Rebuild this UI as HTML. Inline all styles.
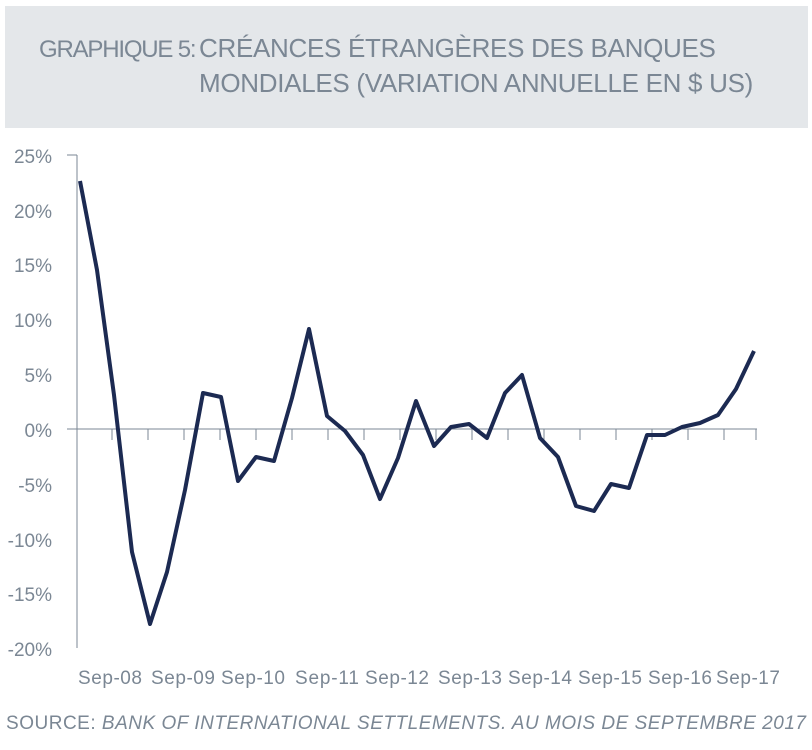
<!DOCTYPE html>
<html><head><meta charset="utf-8"><style>
body{margin:0;width:812px;height:750px;background:#fff;overflow:hidden;font-family:"Liberation Sans",sans-serif}
.hdr{position:absolute;left:5px;top:6px;width:803px;height:122px;background:#e4e7ea}
.t{position:absolute;color:#7b8794;white-space:nowrap}
</style></head><body>
<div class="hdr"></div>
<div class="t" style="left:39px;top:36px;font-size:24px;letter-spacing:-1.2px">GRAPHIQUE 5:</div>
<div class="t" style="left:199px;top:33px;font-size:26px;letter-spacing:-0.3px">CRÉANCES ÉTRANGÈRES DES BANQUES</div>
<div class="t" style="left:199px;top:68px;font-size:26px;letter-spacing:-0.3px">MONDIALES (VARIATION ANNUELLE EN $ US)</div>
<svg width="812" height="750" style="position:absolute;left:0;top:0" font-family="Liberation Sans, sans-serif">
<g stroke="#7b8794" stroke-width="1">
<line x1="77" y1="155" x2="77" y2="648"/>
<line x1="67" y1="155" x2="77" y2="155"/>
<line x1="67" y1="429" x2="757" y2="429"/>
</g>
<g stroke="#7b8794" stroke-width="1">
<line x1="112" y1="429" x2="112" y2="440"/><line x1="148" y1="429" x2="148" y2="440"/><line x1="184" y1="429" x2="184" y2="440"/><line x1="220" y1="429" x2="220" y2="440"/><line x1="256" y1="429" x2="256" y2="440"/><line x1="292" y1="429" x2="292" y2="440"/><line x1="328" y1="429" x2="328" y2="440"/><line x1="364" y1="429" x2="364" y2="440"/><line x1="400" y1="429" x2="400" y2="440"/><line x1="436" y1="429" x2="436" y2="440"/><line x1="472" y1="429" x2="472" y2="440"/><line x1="508" y1="429" x2="508" y2="440"/><line x1="544" y1="429" x2="544" y2="440"/><line x1="580" y1="429" x2="580" y2="440"/><line x1="616" y1="429" x2="616" y2="440"/><line x1="652" y1="429" x2="652" y2="440"/><line x1="688" y1="429" x2="688" y2="440"/><line x1="724" y1="429" x2="724" y2="440"/><line x1="756" y1="429" x2="756" y2="440"/>
</g>
<g fill="#7b8794" font-size="19" text-anchor="end">
<text x="52" y="163">25%</text><text x="52" y="218">20%</text><text x="52" y="272">15%</text><text x="52" y="327">10%</text><text x="52" y="382">5%</text><text x="52" y="437">0%</text><text x="52" y="492">-5%</text><text x="52" y="547">-10%</text><text x="52" y="601">-15%</text><text x="52" y="656">-20%</text>
</g>
<g fill="#7b8794" font-size="19" text-anchor="middle">
<text x="110" y="684" textLength="64">Sep-08</text><text x="183" y="684" textLength="64">Sep-09</text><text x="253" y="684" textLength="64">Sep-10</text><text x="327" y="684" textLength="64">Sep-11</text><text x="397" y="684" textLength="64">Sep-12</text><text x="470" y="684" textLength="64">Sep-13</text><text x="540" y="684" textLength="64">Sep-14</text><text x="610" y="684" textLength="64">Sep-15</text><text x="680" y="684" textLength="64">Sep-16</text><text x="748" y="684" textLength="64">Sep-17</text>
</g>
<polyline fill="none" stroke="#1c2a52" stroke-width="4" stroke-linejoin="round" points="80,181 97,270 114,395 132,552 150,624 167,572 185,490 203,393 221,397 238,481 256,457 274,461 292,398 309,329 327,416 345,431 363,455 380,499 398,458 416,401 434,446 451,427 469,424 487,438 505,393 522,375 540,438 558,457 576,506 594,511 611,484 629,488 647,435 665,435 682,427 700,423 718,415 736,389 754,351"/>
<text x="6" y="729" fill="#7b8794" font-size="19" textLength="800" lengthAdjust="spacing">SOURCE: <tspan font-style="italic">BANK OF INTERNATIONAL SETTLEMENTS. AU MOIS DE SEPTEMBRE 2017</tspan></text>
</svg>
</body></html>
